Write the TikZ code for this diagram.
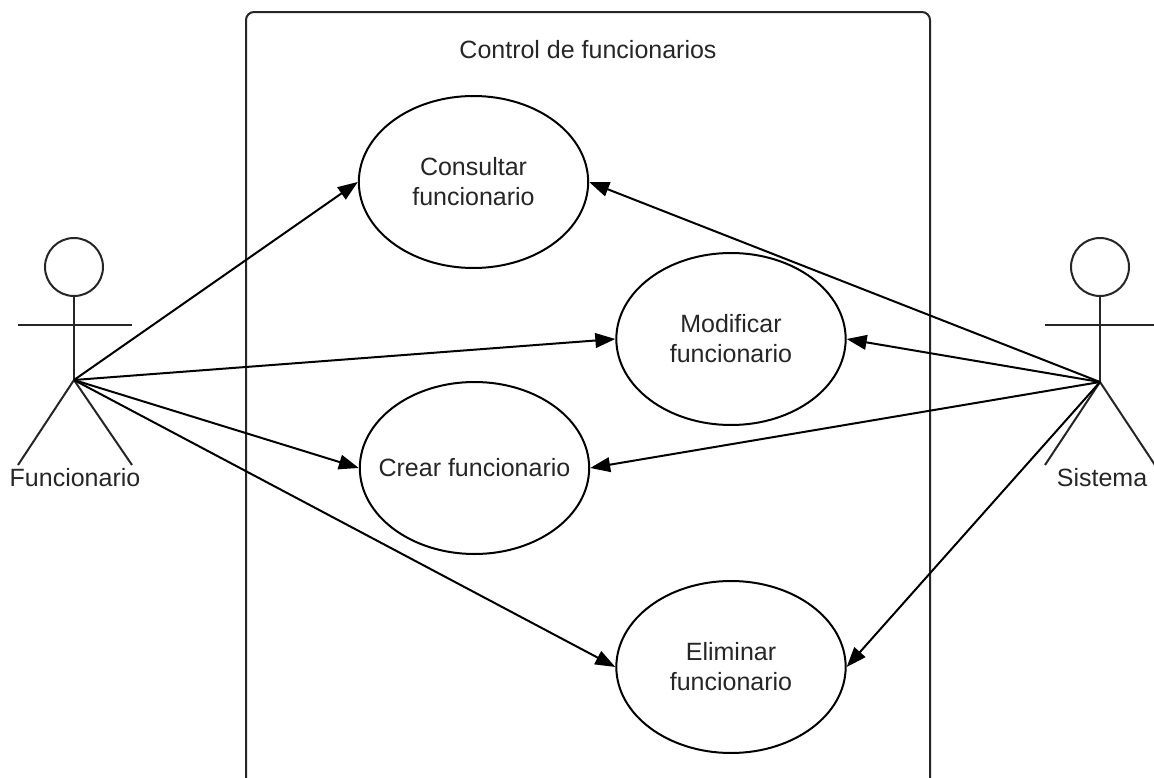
\documentclass[tikz,border=0pt]{standalone}
\usepackage{fontspec}
\setmainfont{Liberation Sans}
\usetikzlibrary{arrows.meta,shapes.geometric}
\begin{document}
\begin{tikzpicture}[x=0.75pt,y=-0.75pt,
  uc/.style={ellipse,draw,line width=1.5pt,minimum width=172pt,minimum height=129pt,inner sep=0pt},
  lbl/.style={font=\fontsize{18.75pt}{22.5pt}\selectfont,inner sep=0pt,text=black!85,align=center},
  assoc/.style={draw,line width=1.5pt,-{Triangle[length=15pt,width=11pt]}},
  stick/.style={draw,line width=1.5pt,black!85},
  frame/.style={draw,line width=1.5pt,rounded corners=6pt,black!85}]
\useasboundingbox (0,0) rectangle (1154,778);
\fill[white] (0,0) rectangle (1154,778);
% system boundary
\draw[frame] (246,12) rectangle (930,800);
\node[lbl] (title) at (588,50) {Control de funcionarios};
% use cases
\node[uc] (cons) at (473.5,182) {};
\node[lbl] (consl) at (cons) {Consultar\\funcionario};
\node[uc] (mod) at (731,339) {};
\node[lbl] (modl) at (mod) {Modificar\\funcionario};
\node[uc] (crear) at (474.5,468) {};
\node[lbl] (crearl) at (crear) {Crear funcionario};
\node[uc] (elim) at (731,667) {};
\node[lbl] (eliml) at (elim) {Eliminar\\funcionario};
% actor Funcionario
\coordinate (fun) at (74,380);
\draw[stick] (74,267) circle[radius=21.75pt];
\draw[stick] (74,296) -- (fun);
\draw[stick] (18,325) -- (132,325);
\draw[stick] (18,465) -- (fun) -- (132,465);
\node[lbl] (funl) at (75,478) {Funcionario};
% actor Sistema
\coordinate (sis) at (1100,382);
\draw[stick] (1100,267) circle[radius=21.75pt];
\draw[stick] (1100,296) -- (sis);
\draw[stick] (1045,325) -- (1155,325);
\draw[stick] (1045,465) -- (sis) -- (1155,465);
\node[lbl] (sisl) at (1102,478) {Sistema};
% associations
\draw[assoc] (fun) -- (cons.west);
\draw[assoc] (fun) -- (mod.west);
\draw[assoc] (fun) -- (crear.west);
\draw[assoc] (fun) -- (elim.west);
\draw[assoc] (sis) -- (cons.east);
\draw[assoc] (sis) -- (mod.east);
\draw[assoc] (sis) -- (crear.east);
\draw[assoc] (sis) -- (elim.east);
\end{tikzpicture}
\end{document}
